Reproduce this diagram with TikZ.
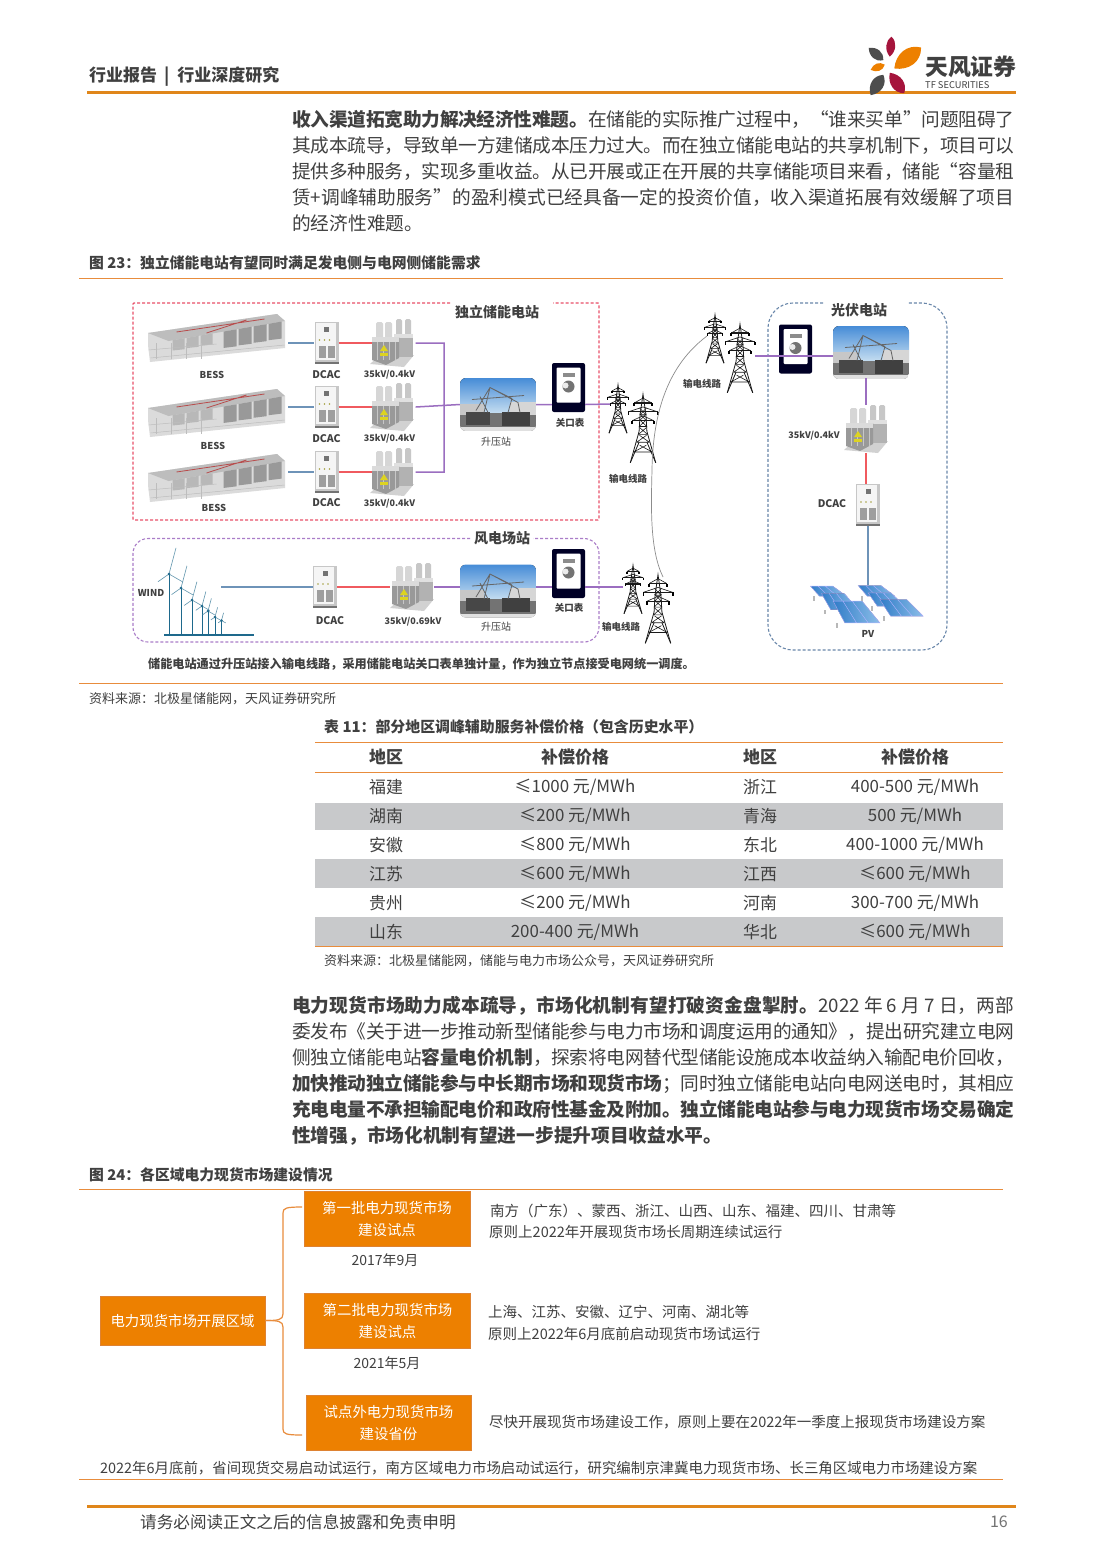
\documentclass[tikz,border=0pt]{standalone}
\usepackage{fontspec}
\setmainfont{Noto Sans CJK SC}
\XeTeXlinebreaklocale "zh"
\XeTeXlinebreakskip=0pt plus 3pt minus .6pt
\tolerance=9999
\definecolor{bodytxt}{RGB}{64,64,64}
\definecolor{rulelight}{RGB}{232,140,60}
\definecolor{ruleheavy}{RGB}{224,134,26}
\definecolor{boxorange}{RGB}{237,128,0}
\definecolor{boxedge}{RGB}{222,130,50}
\definecolor{rowgrey}{RGB}{200,201,203}
\definecolor{wireblue}{RGB}{110,147,184}
\definecolor{wirered}{RGB}{240,90,95}
\definecolor{wirepurple}{RGB}{155,110,192}
\definecolor{dashred}{RGB}{232,80,105}
\definecolor{dashpurple}{RGB}{170,125,200}
\definecolor{dashblue}{RGB}{105,135,170}
\definecolor{windblue}{RGB}{30,105,140}
\definecolor{logored}{RGB}{165,20,60}
\definecolor{logogray}{RGB}{77,77,77}
\definecolor{skytop}{RGB}{70,140,215}
\definecolor{skylow}{RGB}{195,220,240}
\definecolor{panellow}{RGB}{50,125,200}
\definecolor{panelhigh}{RGB}{140,190,232}
\newcommand{\sz}[1]{\fontsize{#1}{#1}\selectfont}
\newcommand{\petal}[6]{\fill[#6, shift={(#1,#2)}, rotate=#3, xscale=#4, yscale=#5]
    (-1,0) .. controls (-.4,.9) and (.5,.95) .. (1,0) .. controls (.5,-.95) and (-.4,-.9) .. (-1,0);}
\tikzset{
    plain/.style={inner sep=0, text=bodytxt},
    body/.style={plain, anchor=north west, text width=722pt, align=justify, font=\fontsize{18.7}{26}\selectfont},
    caption/.style={plain, anchor=west, font=\sz{14.8}\bfseries},
    source/.style={plain, anchor=west, font=\sz{13}},
    chartline/.style={plain, anchor=west, font=\sz{14.5}},
    cell/.style={plain, font=\sz{16.9}},
    headcell/.style={plain, font=\sz{17}\bfseries},
    tag/.style={plain, font=\sz{9.5}\bfseries, text=black!75},
    bigtag/.style={plain, font=\sz{14}\bfseries, text=black!75},
    orangebox/.style={draw=boxedge, fill=boxorange, text=white, inner sep=0, align=center, font=\fontsize{14.4}{22}\selectfont},
    slot/.style={inner sep=0, minimum width=#1},
    slot/.default=10pt,
    thinrule/.style={rulelight, line width=.9pt},
    heavyrule/.style={ruleheavy, line width=3pt},
    wire/.style={line width=1.5pt},
    brace/.style={rulelight, line width=1.2pt},
    cabinet/.pic={
        \fill[black!22] (-12,-21) rectangle (12,21);
        \fill[black!4] (-11,-20) rectangle (9,17);
        \fill[black!55] (-2.5,-16) rectangle (2.5,-11);
        \foreach \x in {-7,-2,3} \fill[yellow!60!black] (\x,-3) circle (.9);
        \fill[black!38] (-8,3) rectangle (-1,15);
        \fill[black!38] (1,3) rectangle (8,15);
        \fill[black!55] (-12,18.5) rectangle (12,21);
    },
    xformer/.pic={
        \fill[black!18] (-22,21) -- (12,24) -- (22,12) -- (-12,12) -- cycle;
        \foreach \x in {4,13} \fill[black!22, rounded corners=1.5] (\x,-24) rectangle (\x+6,-2);
        \fill[black!30] (2,-9) rectangle (21,14);
        \fill[black!12] (2,-9) rectangle (21,-5);
        \foreach \x in {-16,-7} \fill[black!16, rounded corners=1.5] (\x,-21) rectangle (\x+7,-2);
        \fill[black!40] (-20,-6) -- (7,-6) -- (7,15) -- (-6,22) -- (-20,17) -- cycle;
        \fill[black!14] (-20,-6) rectangle (7,-1);
        \foreach \x in {-15,-9,-3,3} \draw[black!22, line width=.7pt] (\x,-1) -- (\x,17);
        \fill[yellow!85!black] (-8,2) -- (-12,8) -- (-4,8) -- cycle;
        \fill[yellow!85!black] (-12,10) rectangle (-4,13);
    },
    substation/.pic={
        \begin{scope}
        \clip[rounded corners=6] (-38,-26.5) rectangle (38,26.5);
        \fill[top color=skytop, bottom color=skylow] (-38,-26.5) rectangle (38,8);
        \fill[black!55] (-38,8) rectangle (38,26.5);
        \fill[black!22] (-38,-1) rectangle (-14,10);
        \fill[black!16] (12,-3) rectangle (38,10);
        \fill[black!72] (-32,7) rectangle (-8,20);
        \fill[black!75] (4,7) rectangle (32,21);
        \fill[black!12] (-38,22.5) rectangle (38,26.5);
        \draw[black!60, line width=.8pt] (-22,6) -- (-8,-17) -- (20,-2) -- (22,8) (-14,8) -- (-8,-17) (10,8) -- (14,-6)
            (-26,-5) -- (26,-9) (-18,-8) -- (-10,8) (-8,-17) -- (14,-6);
        \end{scope}
    },
    meter/.pic={
        \fill[black!85!blue, rounded corners=2] (-16.5,-24.5) rectangle (16.5,24.5);
        \fill[white, rounded corners=1] (-12,-20) rectangle (12,15);
        \fill[black!45] (-6,-15) rectangle (6,-11);
        \fill[black!55] (0,-1) circle (6);
        \fill[black!8] (-3,-2) circle (3);
    },
    rack/.pic={
        \fill[black!14] (-68.5,-5) -- (60.5,-24) -- (68.5,-17) -- (68.5,10) -- (-66.5,24) -- (-68.5,7) -- cycle;
        \fill[black!26] (-68.5,-5) -- (60.5,-24) -- (68.5,-17) -- (-48,3) -- cycle;
        \draw[red!60!black!70, line width=.8pt] (-40,-6) -- (48,-19) (-10,-5) -- (30,-18);
        \foreach \x in {-44,-30,-16} \fill[black!28] (\x,{3-.172*(\x+48)}) -- ++(12,-2.1) -- ++(0,11) -- ++(-12,1.3) -- cycle;
        \foreach \x in {7,22,37,52} \fill[black!40] (\x,{3-.172*(\x+48)}) -- ++(13,-2.2) -- ++(0,17) -- ++(-13,1.6) -- cycle;
        \foreach \x in {-60,-45,-30,-15} \draw[black!26, line width=.5pt] (\x,5) -- (\x,21);
        \draw[black!26, line width=.5pt] (-68,12) -- (0,6) (-66,20) -- (68,7);
    },
    pylon/.pic={
        \draw[black!90, line width=.8pt] (-13,35) -- (-4,3) -- (-3,-14) -- (0,-35) -- (3,-14) -- (4,3) -- (13,35);
        \draw[black!90, line width=.8pt] (-13,35) -- (-4,14) (13,35) -- (4,14);
        \foreach \y/\w in {24/9.5,14/6.5,6/4.6,-2/4,-8/3.5,-14/3} {
            \draw[black!90, line width=.6pt] (-\w,\y) -- (\w,\y) (-\w,\y) -- (3.5,\y-7) (\w,\y) -- (-3.5,\y-7);
        }
        \foreach \y/\w in {-26/9,-17/15,-8/11} {
            \draw[black!90, line width=1.1pt] (-\w,\y) -- (\w,\y);
            \draw[black!90, line width=.6pt] (-\w,\y) -- (0,\y-5) -- (\w,\y);
            \draw[black, line width=1.6pt] (-\w,\y) -- ++(0,3.5) (\w,\y) -- ++(0,3.5);
        }
    },
    pylons/.pic={
        \pic[scale=.69] at (-15,-15) {pylon};
        \pic[scale=.98] at (10,4.5) {pylon};
    },
    panels/.pic={
        \begin{scope}[scale=.3333]
        \foreach \xa/\xb/\ya/\yb [evaluate=\xb as \w using \xb-\xa] in {662/770/875/905,695/805/897/945,730/870/920/985,805/915/873/905,835/945/895/935,870/1000/915/965} {
            \fill[black!28] (\xa-830+8,\yb-930) rectangle (\xa-830+14,\yb-930+14);
            \fill[left color=panellow, right color=panelhigh]
                (\xa-830,\ya-930) -- (\xa-830+.62*\w,\ya-930) -- (\xb-830,\yb-930) -- (\xa-830+.25*\w,\yb-930) -- cycle;
            \draw[white!70!blue, line width=.4pt] (\xa-830,\ya-930) -- (\xa-830+.62*\w,\ya-930) -- (\xb-830,\yb-930) -- (\xa-830+.25*\w,\yb-930) -- cycle
                (\xa-830+.21*\w,\ya-930) -- (\xa-830+.5*\w,\yb-930) (\xa-830+.41*\w,\ya-930) -- (\xa-830+.75*\w,\yb-930);
        }
        \end{scope}
    },
}
\begin{document}
\begin{tikzpicture}[x=1pt, y=-1pt]
\useasboundingbox (0,0) rectangle (1102,1559);
\fill[white] (0,0) rectangle (1102,1559);

% page head
\node[plain, anchor=west, font=\sz{17}\bfseries] (headtitle) at (89,77) {行业报告\hspace{7pt}|\hspace{8pt}行业深度研究};
\draw[heavyrule] (87,92) -- (1016,92);
\petal{890.7}{46.7}{85}{10}{6.5}{logored}
\petal{876}{54}{-40}{9.5}{7}{logogray}
\petal{907.7}{58}{38}{17}{12}{boxorange}
\petal{877.7}{67.3}{20}{7.5}{5.5}{boxorange}
\petal{897}{83}{-55}{12.5}{9}{logored}
\petal{877}{85}{58}{12}{9}{logogray}
\node[plain, anchor=west, font=\sz{22.8}\bfseries] (logoname) at (925,67) {天风证券};
\node[plain, anchor=west, font=\sz{9.3}] (logoen) at (925,85.5) {TF SECURITIES};

\node[body] (introtext) at (292,110) {\textbf{收入渠道拓宽助力解决经济性难题。}在储能的实际推广过程中，“谁来买单”问题阻碍了\linebreak
其成本疏导，导致单一方建储成本压力过大。而在独立储能电站的共享机制下，项目可以\linebreak
提供多种服务，实现多重收益。从已开展或正在开展的共享储能项目来看，储能“容量租\linebreak
赁+调峰辅助服务”的盈利模式已经具备一定的投资价值，收入渠道拓展有效缓解了项目\linebreak
的经济性难题。};

\node[caption] (capfig) at (89,263) {图 23：独立储能电站有望同时满足发电侧与电网侧储能需求};
\draw[thinrule] (79,278) -- (1003,278);

% station frames
\draw[dashred, line width=1.2pt, densely dashed, rounded corners=1] (450,303) -- (133,303) -- (133,520) -- (599,520) -- (599,303) -- (553,303);
\draw[dashpurple, line width=1.1pt, densely dashed, rounded corners=15] (470,538.5) -- (133,538.5) -- (133,642) -- (599,642) -- (599,538.5) -- (533,538.5);
\draw[dashblue, line width=1.1pt, densely dashed, rounded corners=25] (823,303) -- (768,303) -- (768,650) -- (947,650) -- (947,303) -- (907,303);
\node[bigtag] (titlestore) at (497,312) {独立储能电站};
\node[bigtag] (titlewind) at (502,538) {风电场站};
\node[bigtag] (titlesolar) at (859,310) {光伏电站};

% storage rows
\foreach \r/\yr/\yw/\lb/\ld/\lx/\xb in {1/338/343/375/375/375/212, 2/413/407/446/438.5/439/213, 3/478/472/508/503/504/214} {
    \node[slot=137pt, minimum height=50pt] (bess\r) at (216.5,\yw) {};
    \pic at (216.5,\yr) {rack};
    \node[tag] (besstag\r) at (\xb,\lb) {BESS};
    \node[slot=24pt, minimum height=42pt] (dcac\r) at (326.5,\yw) {};
    \pic at (dcac\r) {cabinet};
    \node[tag, font=\sz{10.5}\bfseries] (dcactag\r) at (326.5,\ld) {DCAC};
    \node[slot=43pt, minimum height=49pt] (xf\r) at (394,\yw) {};
    \pic at ([xshift=-2pt]xf\r) {xformer};
    \node[tag, font=\sz{9}\bfseries] (xftag\r) at (389.5,\lx) {35kV/0.4kV};
}
\node[slot=76pt, minimum height=53pt] (boost) at (498,404.5) {};
\pic at (boost) {substation};
\node[tag, font=\sz{10}] (boosttag) at (496,442) {升压站};
\node[slot=33pt, minimum height=49pt] (gate) at (568.5,387.5) {};
\pic at (gate) {meter};
\node[tag] (gatetag) at (570,423) {关口表};

% wind row
\foreach \hx/\hy/\bl in {169/574/27, 181/588/23, 192/600/19, 202/606/15, 208/611/13, 215/617/10, 221.5/620.5/8} {
    \draw[windblue, line width=1pt] (\hx,\hy) -- (\hx,635);
    \draw[windblue!70, line width=.6pt] (\hx,\hy) -- ++(75:\bl pt) (\hx,\hy) -- ++(-30:.6*\bl pt) (\hx,\hy) -- ++(215:.5*\bl pt);
    \fill[windblue] (\hx,\hy) circle (1.4);
}
\draw[windblue, line width=2pt] (164,635) -- (254,635);
\node[tag] (windtag) at (151,593) {WIND};
\coordinate (windout) at (221,587);
\node[slot=24pt, minimum height=42pt] (dcacw) at (325,587) {};
\pic at (dcacw) {cabinet};
\node[tag, font=\sz{10.5}\bfseries] (dcacwtag) at (330,621) {DCAC};
\node[slot=44pt, minimum height=47pt] (xfw) at (412,587) {};
\pic at (xfw) {xformer};
\node[tag, font=\sz{9}\bfseries] (xfwtag) at (413,622) {35kV/0.69kV};
\node[slot=76pt, minimum height=53pt] (boostw) at (498,591) {};
\pic at (boostw) {substation};
\node[tag, font=\sz{10}] (boostwtag) at (496,627) {升压站};
\node[slot=33pt, minimum height=49pt] (gatew) at (568.5,573.5) {};
\pic at (gatew) {meter};
\node[tag] (gatewtag) at (569,608) {关口表};

% transmission
\node[slot=50pt, minimum height=78pt] (lineA) at (633,424) {};
\pic at (lineA) {pylons};
\node[tag] (lineAtag) at (628,479) {输电线路};
\node[slot=50pt, minimum height=78pt] (lineB) at (730,354) {};
\pic at (lineB) {pylons};
\node[tag] (lineBtag) at (702,384) {输电线路};
\node[slot=50pt, minimum height=78pt] (lineC) at (648,604.5) {};
\pic at (lineC) {pylons};
\node[tag] (lineCtag) at (621,627) {输电线路};
\coordinate (lineAin) at (610,404);
\coordinate (lineBout) at (755,356);
\coordinate (lineBgrid) at (707,336);
\coordinate (lineCin) at (623,587);
\coordinate (lineCgrid) at (663,577);
\draw[black!45, line width=.7pt] (lineBgrid) .. controls (675,360) and (653,400) .. (652,470) .. controls (651,510) and (650,550) .. (lineCgrid);

% solar column
\node[slot=33pt, minimum height=49pt] (gates) at (795.5,349) {};
\pic at (gates) {meter};
\node[slot=76pt, minimum height=51pt] (boosts) at (871,352.5) {};
\pic at (boosts) {substation};
\node[slot=42pt, minimum height=48pt] (xfs) at (866,429) {};
\pic at (xfs) {xformer};
\node[tag, font=\sz{9}\bfseries] (xfstag) at (814,436) {35kV/0.4kV};
\node[slot=24pt, minimum height=42pt] (dcacs) at (868,505) {};
\pic at (dcacs) {cabinet};
\node[tag, font=\sz{10.5}\bfseries] (dcacstag) at (832,504) {DCAC};
\node[slot=113pt, minimum height=38pt] (pv) at (866.5,604.5) {};
\pic at (pv) {panels};
\node[tag] (pvtag) at (868,634) {PV};

% wires
\foreach \r in {1,2,3} {
    \draw[wire, wireblue] ([xshift=3pt]bess\r.east) -- (dcac\r.west);
    \draw[wire, wirered] (dcac\r.east) -- (xf\r.west);
}
\draw[wire, wirepurple] (xf1.east) -| (444,404.5) (xf3.east) -| (444,404.5) (xf2.east) -- (boost.west);
\draw[wire, wirepurple] (boost.east) -- (gate.west |- boost.east) (gate.east |- boost.east) -- (lineAin);
\draw[wire, wireblue] (windout) -- (dcacw.west);
\draw[wire, wirered] (dcacw.east) -- (xfw.west);
\draw[wire, wirepurple] (xfw.east) -- (boostw.west |- xfw.east) (boostw.east |- xfw.east) -- (gatew.west |- xfw.east) (gatew.east |- xfw.east) -- (lineCin);
\draw[wire, wirepurple] (lineBout) -- (boosts.west |- lineBout);
\draw[wire, wirepurple] (boosts.south -| xfs.north) -- (xfs.north);
\draw[wire, wirered] (xfs.south) -- (xfs.south |- dcacs.north);
\draw[wire, wireblue] (dcacs.south) -- (dcacs.south |- pv.north);

\node[plain, font=\sz{12.15}\bfseries] (figlead) at (421.5,664) {储能电站通过升压站接入输电线路，采用储能电站关口表单独计量，作为独立节点接受电网统一调度。};
\draw[thinrule] (79,683) -- (1003,683);
\node[source] (srcfig) at (89,699) {资料来源：北极星储能网，天风证券研究所};

% table
\node[plain, anchor=west, font=\sz{14.9}\bfseries] (captable) at (324,727) {表 11：部分地区调峰辅助服务补偿价格（包含历史水平）};
\foreach \ya/\yb in {802.5/830, 859/888, 917/946} \fill[rowgrey] (315,\ya) rectangle (1003,\yb);
\draw[thinrule] (315,742.5) -- (1003,742.5);
\draw[thinrule] (315,772.5) -- (1003,772.5);
\draw[thinrule] (315,946.5) -- (1003,946.5);
\node[headcell] (headA) at (386,757) {地区};
\node[headcell] (headB) at (575,757) {补偿价格};
\node[headcell] (headC) at (760,757) {地区};
\node[headcell] (headD) at (915,757) {补偿价格};
\foreach \i/\y/\a/\b/\c/\d in {
    1/787/福建/≤1000 元\slash MWh/浙江/400-500 元\slash MWh,
    2/816/湖南/≤200 元\slash MWh/青海/500 元\slash MWh,
    3/845/安徽/≤800 元\slash MWh/东北/400-1000 元\slash MWh,
    4/874/江苏/≤600 元\slash MWh/江西/≤600 元\slash MWh,
    5/903/贵州/≤200 元\slash MWh/河南/300-700 元\slash MWh,
    6/932/山东/200-400 元\slash MWh/华北/≤600 元\slash MWh} {
    \node[cell] (rowA\i) at (386,\y) {\a};
    \node[cell] (rowB\i) at (575,\y) {\b};
    \node[cell] (rowC\i) at (760,\y) {\c};
    \node[cell] (rowD\i) at (915,\y) {\d};
}
\node[source] (srctable) at (324,961) {资料来源：北极星储能网，储能与电力市场公众号，天风证券研究所};

\node[body] (spottext) at (292,996) {\textbf{电力现货市场助力成本疏导，市场化机制有望打破资金盘掣肘。}2022 年 6 月 7 日，两部\linebreak
委发布《关于进一步推动新型储能参与电力市场和调度运用的通知》，提出研究建立电网\linebreak
侧独立储能电站\textbf{容量电价机制}，探索将电网替代型储能设施成本收益纳入输配电价回收，\linebreak
\textbf{加快推动独立储能参与中长期市场和现货市场}；同时独立储能电站向电网送电时，其相应\linebreak
\textbf{充电电量不承担输配电价和政府性基金及附加。独立储能电站参与电力现货市场交易确定\linebreak
性增强，市场化机制有望进一步提升项目收益水平。}};

\node[caption] (capchart) at (89,1175) {图 24：各区域电力现货市场建设情况};
\draw[thinrule] (79,1189) -- (1003,1189);

% market chart
\node[orangebox, minimum width=165pt, minimum height=49pt] (market) at (182.5,1320.5) {电力现货市场开展区域};
\node[orangebox, minimum width=166pt, minimum height=55pt] (batchA) at (387,1218.5) {第一批电力现货市场\\建设试点};
\node[orangebox, minimum width=166pt, minimum height=55pt] (batchB) at (387.5,1320.5) {第二批电力现货市场\\建设试点};
\node[orangebox, minimum width=165pt, minimum height=55pt] (batchC) at (388.5,1422.5) {试点外电力现货市场\\建设省份};
\coordinate (braceA) at (302,1207);
\coordinate (braceC) at (302,1435);
\draw[brace] (market.east) .. controls (278,1320.5) and (283,1320) .. (283,1314) -- (283,1213) .. controls (283,1208) and (286,1207) .. (braceA);
\draw[brace] (market.east) .. controls (278,1320.5) and (283,1321) .. (283,1327) -- (283,1429) .. controls (283,1434) and (286,1435) .. (braceC);
\node[plain, font=\sz{14}] (dateA) at (385,1260) {2017年9月};
\node[plain, font=\sz{14}] (dateB) at (387,1363) {2021年5月};
\node[chartline] (noteA1) at (490,1211) {南方（广东）、蒙西、浙江、山西、山东、福建、四川、甘肃等};
\node[chartline] (noteA2) at (489,1232) {原则上2022年开展现货市场长周期连续试运行};
\node[chartline] (noteB1) at (488,1312) {上海、江苏、安徽、辽宁、河南、湖北等};
\node[chartline] (noteB2) at (488,1334) {原则上2022年6月底前启动现货市场试运行};
\node[chartline] (noteC) at (489,1422) {尽快开展现货市场建设工作，原则上要在2022年一季度上报现货市场建设方案};
\node[chartline, font=\sz{14.43}] (noteall) at (100,1468) {2022年6月底前，省间现货交易启动试运行，南方区域电力市场启动试运行，研究编制京津冀电力现货市场、长三角区域电力市场建设方案};
\draw[thinrule] (79,1479) -- (1003,1479);

% page foot
\draw[heavyrule] (87,1506) -- (1016,1506);
\node[plain, anchor=west, font=\sz{16.6}] (footnote) at (140,1522) {请务必阅读正文之后的信息披露和免责申明};
\node[plain, anchor=east, font=\sz{16}, text=black!55] (pageno) at (1008,1522) {16};
\end{tikzpicture}
\end{document}
